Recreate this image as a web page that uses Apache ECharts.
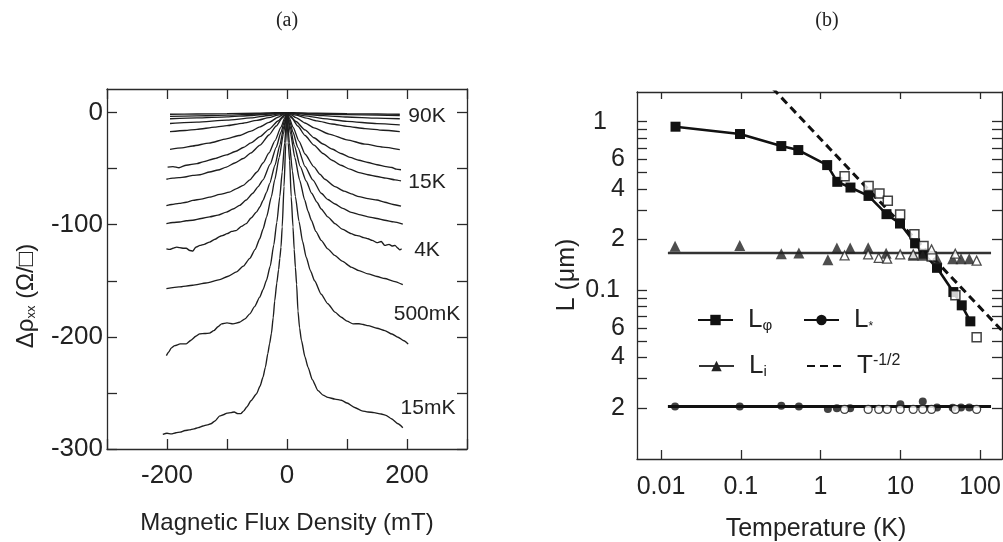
<!DOCTYPE html>
<html><head><meta charset="utf-8">
<script src="https://cdn.jsdelivr.net/npm/echarts@6/dist/echarts.min.js"></script>
<style>html,body{margin:0;padding:0;background:#fff}#c{width:1003px;height:542px}</style>
</head><body><div id="c"></div>
<script>
// ---------- Panel (a): magnetoresistance curves [B (mT), delta rho (ohm/sq)] ----------
const curve01 = [[-195,-1.5],[-150,-1.3],[-100,-1.0],[-50,-0.6],[-20,-0.2],[0,0],[20,-0.3],[50,-0.6],[100,-1.0],[150,-1.3],[188,-1.5]];
const curve02 = [[-195,-3.4],[-150,-3.0],[-100,-2.3],[-50,-1.4],[-20,-0.6],[0,0],[20,-0.6],[50,-1.3],[100,-1.9],[150,-2.3],[188,-2.6]];
const curve03 = [[-195,-5.5],[-150,-4.8],[-100,-3.8],[-60,-2.6],[-30,-1.4],[-10,-0.5],[0,0],[10,-0.5],[30,-1.5],[60,-2.8],[100,-4.0],[150,-5.0],[188,-5.5]];
const curve04 = [[-195,-9.8],[-150,-8.6],[-100,-6.8],[-60,-4.8],[-30,-2.6],[-12,-1],[0,0],[12,-1.1],[30,-2.9],[60,-5.4],[100,-7.9],[150,-9.9],[188,-11]];
const curve05 = [[-195,-17],[-170,-16],[-150,-15],[-120,-13],[-100,-11.7],[-75,-9.6],[-50,-7],[-30,-4.5],[-15,-2.2],[0,0],[15,-2.3],[30,-4.7],[50,-7.4],[75,-10.2],[100,-12.3],[130,-14.3],[160,-15.8],[188,-17]];
const curve06 = [[-195,-32.8],[-175,-31.5],[-157,-29.8],[-130,-27.2],[-101,-23.5],[-80,-20.5],[-60,-16.5],[-45,-12.8],[-30,-8.8],[-15,-4.2],[-5,-1.3],[0,0],[5,-1.4],[15,-4.5],[30,-9.3],[45,-13.6],[70,-19.2],[100,-24.3],[130,-28.2],[160,-30.8],[188,-33]];
const curve07 = [[-199,-48.6],[-190,-48.2],[-180,-49.2],[-168,-47],[-150,-45.5],[-140,-44],[-120,-41],[-101,-37.8],[-85,-34.5],[-73,-31.2],[-60,-27],[-45,-21.5],[-30,-15],[-15,-7.5],[-5,-2.6],[0,0],[5,-2.7],[15,-8],[30,-15.5],[45,-22.5],[60,-28],[75,-32.5],[90,-36.5],[105,-40],[120,-42.5],[135,-44.5],[150,-46.5],[165,-48.2],[175,-49],[182,-50.5],[190,-51]];
const curve08 = [[-201,-59.5],[-190,-58.5],[-180,-58],[-170,-57.5],[-157,-56],[-145,-55.5],[-129,-53],[-115,-51.2],[-101,-48.6],[-87,-45],[-73,-41],[-60,-36],[-45,-29],[-30,-20],[-18,-12],[-8,-5],[0,0],[8,-5],[18,-12],[30,-20.5],[45,-29],[60,-36.5],[75,-42.5],[90,-47],[105,-50.5],[120,-53.5],[135,-55.5],[150,-57],[165,-58.5],[180,-60],[190,-61]];
const curve09 = [[-201,-83],[-192,-82],[-180,-81],[-168,-80],[-157,-78.3],[-143,-77.2],[-129,-75.4],[-112,-73],[-96,-71],[-85,-68],[-73,-65],[-62,-60],[-50,-53],[-40,-45],[-30,-36],[-20,-25],[-10,-13],[-4,-5],[0,0],[4,-5],[10,-13],[20,-25.5],[30,-37],[45,-48.5],[55,-55],[63,-59.5],[80,-66],[95,-70],[107,-72.5],[120,-75],[135,-76.8],[150,-78],[163,-80],[177,-82],[190,-83.5]];
const curve10 = [[-201,-99],[-190,-98],[-179,-97.6],[-168,-96.5],[-157,-96],[-143,-94.5],[-129,-93],[-115,-91.5],[-101,-88.8],[-90,-86],[-79,-82.8],[-68,-78],[-57,-72],[-48,-66],[-40,-60],[-28,-46],[-18,-31],[-10,-17.5],[-4,-7],[0,0],[4,-7],[10,-17.5],[18,-31],[30,-48],[43,-60],[57,-72],[68,-77.5],[80,-81.5],[93,-85.5],[107,-89],[120,-91],[135,-93],[150,-94.5],[163,-96],[178,-97.5],[193,-99.5]];
const curve11 = [[-201,-121.5],[-195,-122],[-190,-121],[-184,-120],[-179,-120.5],[-172,-121],[-168,-121],[-162,-123],[-157,-123.5],[-152,-120],[-145,-118.5],[-138,-117.5],[-129,-115.5],[-120,-113],[-112,-110.5],[-107,-109.6],[-100,-108],[-92,-106],[-84,-105],[-76,-101.5],[-68,-99],[-60,-94],[-51,-88.8],[-45,-84],[-40,-78.3],[-34,-71],[-29,-63.4],[-20,-47],[-12,-29],[-5,-12],[0,0],[5,-12],[12,-29],[22,-48],[32,-61],[41,-72],[50,-80],[57,-86],[68,-93],[80,-99],[92,-104],[107,-108],[115,-109.5],[120,-110],[128,-111.5],[135,-112.5],[142,-114],[150,-116],[157,-115],[163,-118.5],[170,-117.5],[175,-119],[180,-118.5],[185,-121],[188,-122.5],[191,-121.5]];
const curve12 = [[-201,-157],[-180,-155.5],[-157,-154],[-135,-152],[-112,-149],[-98,-146],[-84,-142],[-73,-137],[-62,-130],[-53,-122],[-45.5,-112.5],[-40,-104],[-34,-93],[-26,-75],[-20.5,-60],[-13,-40],[-6,-19],[0,0],[6,-19],[13,-40],[21,-60],[29.5,-78],[35,-88],[40.6,-96],[48,-106],[57,-114],[68,-121.5],[79.5,-127.4],[92,-132.5],[107,-137.8],[120,-141],[135,-143.8],[150,-146.2],[163,-148],[178,-150.5],[193,-153.5]];
const curve13 = [[-201,-216.7],[-197,-213.5],[-193,-210],[-187,-207.8],[-178,-206.3],[-168,-206.3],[-160,-203],[-152,-199.5],[-145.5,-197.3],[-137,-197],[-129,-196.7],[-122,-194.5],[-115,-191],[-109,-188.4],[-100,-187.5],[-90,-188.4],[-79,-187],[-70,-184],[-62,-179.5],[-54,-173],[-45.5,-164.6],[-40,-158],[-34.3,-149.7],[-28,-137],[-22,-118],[-17,-98],[-12,-75],[-8,-53],[-4,-27],[0,0],[4,-27],[9,-52],[14,-75],[20,-97],[26,-115],[32,-129],[39,-141],[46,-150],[57,-162],[68,-170.5],[80,-178],[90.6,-182.5],[100,-186],[110,-188.4],[120,-188.3],[127,-189],[135,-190],[150,-192.3],[163,-194.4],[175,-197.5],[185,-200.4],[195,-203.5],[202,-206.5]];
const curve14 = [[-207,-287],[-200,-286],[-193,-286.5],[-185,-285.5],[-178,-285],[-170,-283.5],[-163,-283],[-155,-282],[-148,-281],[-140,-279.5],[-133,-278.5],[-127,-277.5],[-120,-275],[-112,-270.5],[-106,-269.5],[-100,-268],[-93,-267.5],[-88,-267],[-82,-268.5],[-77,-268.5],[-72,-266],[-67,-262.5],[-60,-257],[-51,-251],[-45,-244],[-40,-236],[-36,-227],[-32,-215],[-29,-206],[-26,-197],[-23,-183],[-20.5,-168],[-17,-152],[-14,-140],[-12,-130],[-10,-120],[-8,-102],[-5,-66],[-2,-27],[0,0],[2,-27],[4.4,-43],[7,-75],[10,-102],[12,-122],[14,-138],[16,-153],[18.3,-177],[21,-192],[24,-203],[30,-218],[35,-227],[42,-238],[51.7,-248],[60,-252],[68,-254],[80,-255.5],[90.6,-256.5],[100,-259],[112.8,-263],[125,-266],[135,-267],[145,-267.5],[157,-268.8],[165,-270],[174,-273],[185,-277.5],[193,-281]];
const curvesA = [curve01,curve02,curve03,curve04,curve05,curve06,curve07,curve08,curve09,curve10,curve11,curve12,curve13,curve14];
const curveLabels = ['90K','15K','4K','500mK','15mK'];
const leftXLabels = [-200, 0, 200];
const leftYLabels = [0, -100, -200, -300];
const leftYTicks = [0, -50, -100, -150, -200, -250, -300];

// ---------- Panel (b): length scales vs temperature ----------
const phiT_filled = [0.0152,0.0977,0.322,0.526,1.21,1.62,2.37,3.99,6.7,9.9,15.3,19.5,28.8,46.2,58.8,75.4];
const phiL_filled = [0.934,0.845,0.717,0.679,0.553,0.44,0.407,0.363,0.283,0.249,0.19,0.165,0.136,0.0977,0.0815,0.0655];
const phiT_open = [2.0,4.0,5.47,6.96,9.94,15,19.5,24.7,49,90.4];
const phiL_open = [0.475,0.415,0.375,0.34,0.282,0.215,0.183,0.159,0.0934,0.0528];
const iT_filled = [0.015,0.097,0.322,0.535,1.235,1.6,2.35,3.95,6.63,14.5,19.1,28.8,45.3,57.6,73.1];
const iL_filled = [0.1825,0.1847,0.165,0.1664,0.152,0.178,0.178,0.179,0.166,0.1614,0.1614,0.154,0.154,0.154,0.154];
const iT_open = [2.0,3.95,5.36,6.83,9.95,14.5,24.6,48.8,90.4];
const iL_open = [0.161,0.1635,0.156,0.154,0.1635,0.1635,0.175,0.165,0.15];
const iFitT = [0.0122, 137];
const iFitL = [0.1664, 0.1664];
const sT_filled = [0.015,0.097,0.322,0.535,1.235,1.6,2.35,10,19.1,28.8,45.3,57.6,73.1];
const sL_filled = [0.0205,0.0205,0.0207,0.0205,0.0198,0.0200,0.0200,0.0211,0.0219,0.0202,0.0201,0.0202,0.0202];
const sT_open = [2.0,3.95,5.36,6.83,9.95,14.5,19.1,24.6,48.8,90.4];
const sL_open = [0.0197,0.0197,0.0197,0.0197,0.0197,0.0197,0.0197,0.0197,0.0197,0.0197];
const sFitT = [0.0122, 137];
const sFitL = [0.0205, 0.0205];
const powT = [0.25, 200];
const powL = [1.58, 0.0559];
const rightXTicks = [0.01, 0.1, 1, 10, 100];
const rightXLabelTexts = ['0.01','0.1','1','10','100'];
const rightYTicks = [1,0.9,0.8,0.7,0.6,0.5,0.4,0.3,0.2,0.1,0.09,0.08,0.07,0.06,0.05,0.04,0.03,0.02];
const rightYLabelValues = [1,0.6,0.4,0.2,0.1,0.06,0.04,0.02];
const rightYLabelTexts = ['1','6','4','2','0.1','6','4','2'];

// ---------- build ----------
const FONT = '"Liberation Sans", Arial, Helvetica, sans-serif';
const INK = '#1e1e1e';
const AX = {color:'#2a2a2a', width:1.3};
const zip = (a,b) => a.map((v,i)=>[v,b[i]]);
function nearestText(v, vals, texts){
  let bi=0, bd=Infinity;
  vals.forEach((x,i)=>{const d=Math.abs(Math.log(v)-Math.log(x)); if(d<bd){bd=d;bi=i;}});
  return texts[bi];
}

const chart = echarts.init(document.getElementById('c'), null, {renderer:'canvas'});

const seriesA = curvesA.map(d => ({
  type:'line', xAxisIndex:0, yAxisIndex:0, data:d, showSymbol:false, symbol:'none',
  smooth:0.2, smoothMonotone:'x', lineStyle:{color:INK, width:1.35}, silent:true, z:2
}));

const seriesB = [
  {name:'Li', type:'line', xAxisIndex:2, yAxisIndex:2, data:zip(iFitT,iFitL), symbol:'triangle', showSymbol:false,
   lineStyle:{color:'#333', width:2.6}, itemStyle:{color:'#222'}, z:2},
  {name:'L*', type:'line', xAxisIndex:2, yAxisIndex:2, data:zip(sFitT,sFitL), symbol:'circle', showSymbol:false,
   lineStyle:{color:'#111', width:3}, itemStyle:{color:'#111'}, z:2},
  {name:'T-1/2', type:'line', xAxisIndex:2, yAxisIndex:2, data:zip(powT,powL), symbol:'none', showSymbol:false,
   lineStyle:{color:'#111', width:3, type:[8,5]}, itemStyle:{color:'#111'}, z:2},
  {name:'Lφ', type:'line', xAxisIndex:2, yAxisIndex:2, data:zip(phiT_filled,phiL_filled), symbol:'rect', symbolSize:10, showSymbol:true,
   lineStyle:{color:'#111', width:2.6}, itemStyle:{color:'#111'}, z:4},
  {type:'scatter', xAxisIndex:2, yAxisIndex:2, data:zip(phiT_open,phiL_open), symbol:'rect', symbolSize:9,
   itemStyle:{color:'#fff', borderColor:'#111', borderWidth:1.5}, z:5},
  {type:'scatter', xAxisIndex:2, yAxisIndex:2, data:zip(iT_filled,iL_filled), symbol:'triangle', symbolSize:11,
   itemStyle:{color:'#222'}, z:4},
  {type:'scatter', xAxisIndex:2, yAxisIndex:2, data:zip(iT_open,iL_open), symbol:'triangle', symbolSize:9,
   itemStyle:{color:'#fff', borderColor:'#222', borderWidth:1.3}, z:5},
  {type:'scatter', xAxisIndex:2, yAxisIndex:2, data:zip(sT_filled,sL_filled), symbol:'circle', symbolSize:8,
   itemStyle:{color:'#111'}, z:4},
  {type:'scatter', xAxisIndex:2, yAxisIndex:2, data:zip(sT_open,sL_open), symbol:'circle', symbolSize:8,
   itemStyle:{color:'#fff', borderColor:'#111', borderWidth:1.3}, z:5}
];

const tickSty = (len) => ({show:true, inside:true, length:len, lineStyle:AX});
const RICH = {
  m:{fontSize:26, fontFamily:FONT, color:'#222', padding:[0,0,0,10]},
  s:{fontSize:15, fontFamily:FONT, color:'#222', verticalAlign:'bottom', lineHeight:12},
  st:{fontSize:12, fontFamily:FONT, color:'#222', verticalAlign:'bottom', lineHeight:14},
  p:{fontSize:16, fontFamily:FONT, color:'#222', verticalAlign:'top', lineHeight:12}
};
function mkLegend(name, left, top, fmt, extra){
  return Object.assign({
    data:[{name:name}], left:left, top:top, padding:0, itemWidth:35, itemHeight:13,
    selectedMode:false, orient:'horizontal', formatter:()=>fmt, textStyle:{rich:RICH}
  }, extra||{});
}

const option = {
  animation:false,
  backgroundColor:'#fff',
  grid:[
    {left:107, top:89, width:360, height:360, outerBoundsMode:'none', containLabel:false},
    {left:637, top:92, width:365, height:367, outerBoundsMode:'none', containLabel:false}
  ],
  xAxis:[
    {gridIndex:0, type:'value', min:-300, max:300, interval:100, position:'bottom',
     axisLine:{show:true, onZero:false, lineStyle:AX}, axisTick:tickSty(10),
     axisLabel:{show:true, customValues:leftXLabels, margin:14, fontSize:26, color:'#222', fontFamily:FONT},
     splitLine:{show:false}},
    {gridIndex:0, type:'value', min:-300, max:300, interval:100, position:'top',
     axisLine:{show:true, onZero:false, lineStyle:AX}, axisTick:tickSty(10),
     axisLabel:{show:false}, splitLine:{show:false}},
    {gridIndex:1, type:'log', logBase:10, min:0.005, max:188, position:'bottom',
     axisLine:{show:true, onZero:false, lineStyle:AX},
     axisTick:Object.assign(tickSty(9), {customValues:rightXTicks}),
     axisLabel:{show:true, customValues:rightXTicks, margin:16, fontSize:25, color:'#222', fontFamily:FONT,
       formatter:(v)=>nearestText(v, rightXTicks, rightXLabelTexts)},
     splitLine:{show:false}, minorTick:{show:false}},
    {gridIndex:1, type:'log', logBase:10, min:0.005, max:188, position:'top',
     axisLine:{show:true, onZero:false, lineStyle:AX},
     axisTick:Object.assign(tickSty(7), {customValues:rightXTicks}),
     axisLabel:{show:false}, splitLine:{show:false}}
  ],
  yAxis:[
    {gridIndex:0, type:'value', min:-300, max:21, position:'left',
     axisLine:{show:true, onZero:false, lineStyle:AX},
     axisTick:Object.assign(tickSty(10), {customValues:leftYTicks}),
     axisLabel:{show:true, customValues:leftYLabels, margin:4, fontSize:26, color:'#222', fontFamily:FONT},
     splitLine:{show:false}},
    {gridIndex:0, type:'value', min:-300, max:21, position:'right',
     axisLine:{show:true, onZero:false, lineStyle:AX},
     axisTick:Object.assign(tickSty(10), {customValues:leftYTicks}),
     axisLabel:{show:false}, splitLine:{show:false}},
    {gridIndex:1, type:'log', logBase:10, min:0.01, max:1.5, position:'left',
     axisLine:{show:true, onZero:false, lineStyle:AX},
     axisTick:Object.assign(tickSty(10), {customValues:rightYTicks}),
     axisLabel:{show:true, customValues:rightYLabelValues, margin:12, fontSize:25, color:'#222', fontFamily:FONT,
       formatter:(v)=>{const t=nearestText(v, rightYLabelValues, rightYLabelTexts);
         if(t==='1') return '{one|1}'; if(t==='0.1') return '{pt|0.1}'; return t;},
       rich:{one:{fontSize:25, fontFamily:FONT, color:'#222', padding:[0,18,0,0]},
             pt:{fontSize:25, fontFamily:FONT, color:'#222', padding:[0,5,0,0]}}},
     splitLine:{show:false}},
    {gridIndex:1, type:'log', logBase:10, min:0.01, max:1.5, position:'right',
     axisLine:{show:true, onZero:false, lineStyle:AX},
     axisTick:Object.assign(tickSty(10), {customValues:rightYTicks}),
     axisLabel:{show:false}, splitLine:{show:false}}
  ],
  legend:[
    mkLegend('Lφ', 697, 307, '{m|L}{s|φ}'),
    mkLegend('L*', 803, 307, '{m|L}{st|*}'),
    mkLegend('Li', 698, 353, '{m|L}{s|i}'),
    mkLegend('T-1/2', 806, 353, '{m|T}{p|-1/2}', {itemStyle:{opacity:0}})
  ],
  series: seriesA.concat(seriesB),
  graphic:[
    {type:'text', x:287, y:21, style:{text:'(a)', font:'20px "Liberation Serif", "DejaVu Serif", serif', fill:'#222', align:'center', verticalAlign:'middle'}},
    {type:'text', x:827, y:21, style:{text:'(b)', font:'20px "Liberation Serif", "DejaVu Serif", serif', fill:'#222', align:'center', verticalAlign:'middle'}},
    {type:'text', x:287, y:523, style:{text:'Magnetic Flux Density (mT)', font:'24px '+FONT, fill:'#222', align:'center', verticalAlign:'middle'}},
    {type:'text', x:816, y:529, style:{text:'Temperature (K)', font:'25px '+FONT, fill:'#222', align:'center', verticalAlign:'middle'}},
    {type:'text', x:26, y:296, rotation:Math.PI/2, style:{text:'{a|Δρ}{s|xx}{a| (Ω/□)}', align:'center', verticalAlign:'middle',
      rich:{a:{fontSize:24, fontFamily:FONT, fill:'#222'}, s:{fontSize:13, fontFamily:FONT, fill:'#222', verticalAlign:'bottom', lineHeight:10}}}},
    {type:'text', x:567, y:275, rotation:Math.PI/2, style:{text:'L (μm)', font:'25px '+FONT, fill:'#222', align:'center', verticalAlign:'middle'}},
    {type:'text', x:427, y:116, style:{text:curveLabels[0], font:'21px '+FONT, fill:'#222', align:'center', verticalAlign:'middle'}},
    {type:'text', x:427, y:182, style:{text:curveLabels[1], font:'21px '+FONT, fill:'#222', align:'center', verticalAlign:'middle'}},
    {type:'text', x:427, y:250, style:{text:curveLabels[2], font:'21px '+FONT, fill:'#222', align:'center', verticalAlign:'middle'}},
    {type:'text', x:427, y:314, style:{text:curveLabels[3], font:'21px '+FONT, fill:'#222', align:'center', verticalAlign:'middle'}},
    {type:'text', x:428, y:408, style:{text:curveLabels[4], font:'21px '+FONT, fill:'#222', align:'center', verticalAlign:'middle'}}
  ]
};
chart.setOption(option);
</script>
</body></html>
